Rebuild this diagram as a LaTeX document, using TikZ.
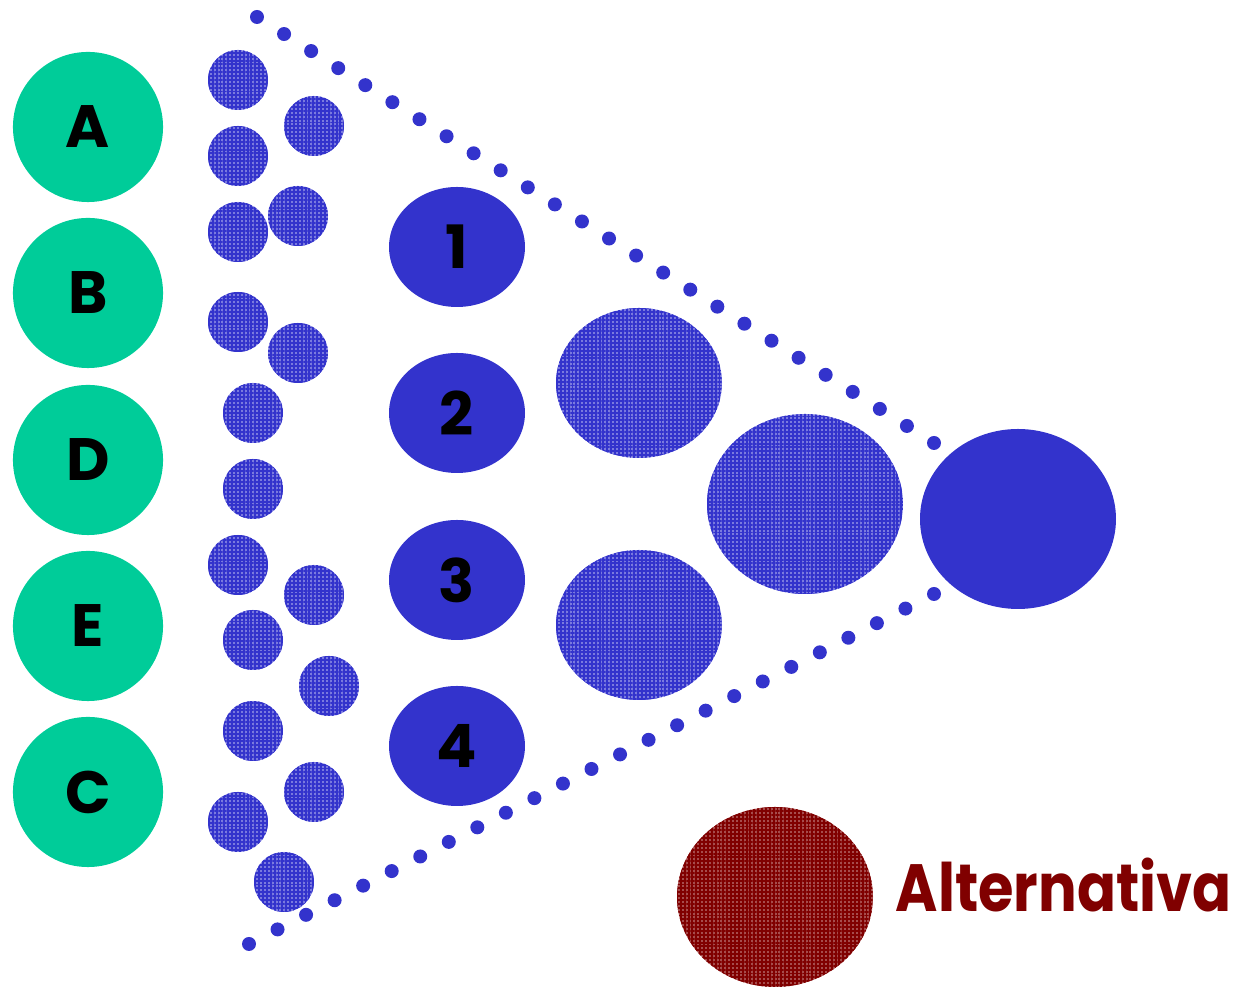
\documentclass[tikz,border=0pt]{standalone}
\usepackage{fontspec}
\setmainfont{Poppins}
\usepackage{tikz}
\usetikzlibrary{patterns.meta}
\usetikzlibrary{calc}
\definecolor{crit}{HTML}{00CC99}
\definecolor{nodeblue}{HTML}{3333CC}
\definecolor{altred}{HTML}{800000}
\tikzset{
  critball/.style={circle, fill=crit, minimum size=1.5cm, inner sep=0pt, font=\fontsize{17}{17}\selectfont\bfseries},
  subball/.style={fill=nodeblue!65!white, postaction={pattern={Hatch[distance=1.1pt, line width=0.55pt]}, pattern color=nodeblue}},
  altball/.style={fill=altred!70!white, postaction={pattern={Hatch[distance=1.1pt, line width=0.55pt]}, pattern color=altred}},
  numlabel/.style={font=\fontsize{17}{17}\selectfont\bfseries}
}
\begin{document}
\begin{tikzpicture}[x=0.01cm, y=-0.01cm]
                \useasboundingbox (0,0) rectangle (1235,989);
                % Criteria
                \node[critball] (critA) at (88,127) {A};
                \node[critball] (critB) at (88,293) {B};
                \node[critball] (critD) at (88,460) {D};
                \node[critball] (critE) at (88,626) {E};
                \node[critball] (critC) at (88,792) {C};

                % Sub-criteria
                \foreach \px/\py in {238/80, 314/126, 238/156, 298/216, 238/232, 238/322, 298/353, 253/413, 253/489,
                                     238/565, 314/595, 253/640, 329/686, 253/731, 314/792, 238/822, 284/882}
                    \fill[subball] (\px,\py) circle (30);

                % Dotted borders
                \foreach \t in {0,...,25}
                    \fill[nodeblue] ($(257,17)!\t/25!(934,443)$) circle (7);
                \foreach \t in {0,...,24}
                    \fill[nodeblue] ($(249,944)!\t/24!(934,594)$) circle (7);

                % Levels
                \fill[nodeblue] (457,247) circle [x radius=68, y radius=60]; \node[numlabel] (lvl1) at (457,247) {1};
                \fill[nodeblue] (457,413) circle [x radius=68, y radius=60]; \node[numlabel] (lvl2) at (457,413) {2};
                \fill[nodeblue] (457,580) circle [x radius=68, y radius=60]; \node[numlabel] (lvl3) at (457,580) {3};
                \fill[nodeblue] (457,746) circle [x radius=68, y radius=60]; \node[numlabel] (lvl4) at (457,746) {4};

                \fill[subball] (639,383) circle [x radius=83, y radius=75];
                \fill[subball] (639,625) circle [x radius=83, y radius=75];
                \fill[subball] (805,504) circle [x radius=98, y radius=90];
                \fill[nodeblue] (1018,519) circle [x radius=98, y radius=90];

                % Legend
                \fill[altball] (775,897) circle [x radius=98, y radius=90];
                \node[anchor=west, text=altred, font=\fontsize{19}{19}\selectfont\bfseries, inner sep=0pt] (altlabel) at (895,885) {\scalebox{0.86}[1]{Alternativa}};
\end{tikzpicture}
\end{document}
